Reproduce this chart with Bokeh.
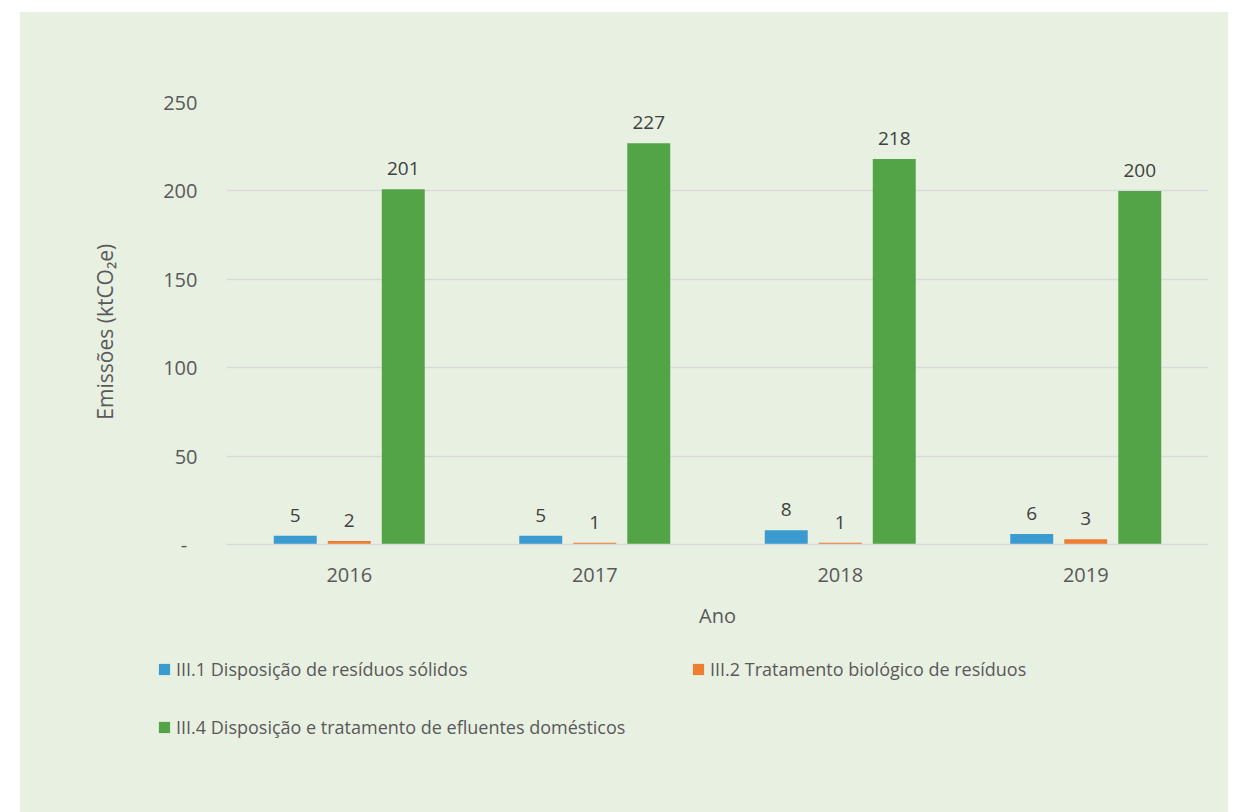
from bokeh.plotting import figure
from bokeh.layouts import column
from bokeh.models import (ColumnDataSource, FactorRange, Range1d, Legend, LegendItem,
                          LabelSet, FixedTicker, CustomJSTickFormatter)
from bokeh.core.properties import value
from bokeh.transform import dodge
from bokeh.embed import file_html
from bokeh.resources import INLINE

years = ["2016", "2017", "2018", "2019"]
solidos = [5, 5, 8, 6]
biologico = [2, 1, 1, 3]
efluentes = [201, 227, 218, 200]
series_names = [
    "III.1 Disposição de resíduos sólidos",
    "III.2 Tratamento biológico de resíduos",
    "III.4 Disposição e tratamento de efluentes domésticos",
]
y_ticks = [0, 50, 100, 150, 200, 250]

BLUE = "#3A9BD1"
ORANGE = "#ED7D31"
GREEN = "#53A447"
BG = "#E8F0E2"
TXT = "#595959"
FONT = "Open Sans"

src = ColumnDataSource(dict(
    years=years, solidos=solidos, biologico=biologico, efluentes=efluentes,
    l1=[str(v) for v in solidos], l2=[str(v) for v in biologico],
    l3=[str(v) for v in efluentes],
))

p = figure(width=1208, height=633, x_range=FactorRange(factors=years),
           y_range=Range1d(0, 250), output_backend="svg", toolbar_location=None,
           background_fill_color=BG, border_fill_color=BG,
           min_border_left=206, min_border_right=20, min_border_top=90,
           min_border_bottom=101, outline_line_color=None)
p.frame_align = False

off = 0.22
w = 0.175
r1 = p.vbar(x=dodge("years", -off, range=p.x_range), top="solidos", width=w, bottom=0,
            source=src, fill_color=BLUE, line_color=None)
r2 = p.vbar(x=dodge("years", 0.0, range=p.x_range), top="biologico", width=w, bottom=0,
            source=src, fill_color=ORANGE, line_color=None)
r3 = p.vbar(x=dodge("years", off, range=p.x_range), top="efluentes", width=w, bottom=0,
            source=src, fill_color=GREEN, line_color=None)

for col, lab, o in [("solidos", "l1", -off), ("biologico", "l2", 0.0), ("efluentes", "l3", off)]:
    ls = LabelSet(x=dodge("years", o, range=p.x_range), y=col, text=lab, source=src,
                  text_align="center", text_baseline="bottom", y_offset=14,
                  text_font=value(FONT), text_font_size="19px", text_color="#404040")
    p.add_layout(ls)

# axes
p.yaxis.ticker = FixedTicker(ticks=y_ticks)
p.yaxis.formatter = CustomJSTickFormatter(code="return tick == 0 ? '-  ' : tick.toString();")
p.yaxis.axis_line_color = None
p.yaxis.major_tick_line_color = None
p.yaxis.minor_tick_line_color = None
p.yaxis.major_label_standoff = 23
p.yaxis.major_label_text_font = FONT
p.yaxis.major_label_text_font_size = "20px"
p.yaxis.major_label_text_color = TXT
p.yaxis.axis_label = "Emissões (ktCO₂e)   "
p.yaxis.axis_label_text_font = FONT
p.yaxis.axis_label_text_font_size = "21px"
p.yaxis.axis_label_text_font_style = "normal"
p.yaxis.axis_label_text_color = TXT
p.yaxis.axis_label_standoff = 41

p.xaxis.axis_line_color = "#D9D9D9"
p.xaxis.axis_line_width = 1.5
p.xaxis.major_tick_line_color = None
p.xaxis.minor_tick_line_color = None
p.xaxis.major_label_standoff = 17
p.xaxis.major_label_text_font = FONT
p.xaxis.major_label_text_font_size = "20px"
p.xaxis.major_label_text_color = TXT
p.xaxis.axis_label = "Ano"
p.xaxis.axis_label_text_font = FONT
p.xaxis.axis_label_text_font_size = "20px"
p.xaxis.axis_label_text_font_style = "normal"
p.xaxis.axis_label_text_color = TXT
p.xaxis.axis_label_standoff = 17

p.xgrid.grid_line_color = None
p.ygrid.grid_line_color = "#D9D9D9"
p.ygrid.grid_line_width = 1.5

# legend panel (separate figure so nothing is clipped)
q = figure(width=1208, height=167, x_range=Range1d(0, 1), y_range=Range1d(0, 1),
           output_backend="svg", toolbar_location=None,
           background_fill_color=BG, border_fill_color=BG, outline_line_color=None,
           min_border=0, min_border_left=0, min_border_right=0, min_border_top=0,
           min_border_bottom=0)
q.frame_align = False
q.axis.visible = False
q.grid.visible = False
colors = [BLUE, ORANGE, GREEN]
dummies = [q.vbar(x=[-10], top=[-10], width=0.1, fill_color=c, line_color=None)
           for c in colors]

positions = [(137, 131), (671, 131), (137, 73)]
for r, name, loc in zip(dummies, series_names, positions):
    lg = Legend(items=[LegendItem(label=name, renderers=[r])], location=loc,
                background_fill_alpha=0, border_line_color=None, padding=0, margin=0,
                glyph_width=14, glyph_height=14, label_standoff=5,
                label_text_font=FONT, label_text_font_size="18px",
                label_text_color=TXT, label_height=20)
    q.add_layout(lg, "center")

layout = column(p, q, spacing=0)
layout.margin = (12, 0, 0, 20)
layout.styles = {"background-color": BG}

open("out.html", "w").write(file_html(layout, INLINE))
